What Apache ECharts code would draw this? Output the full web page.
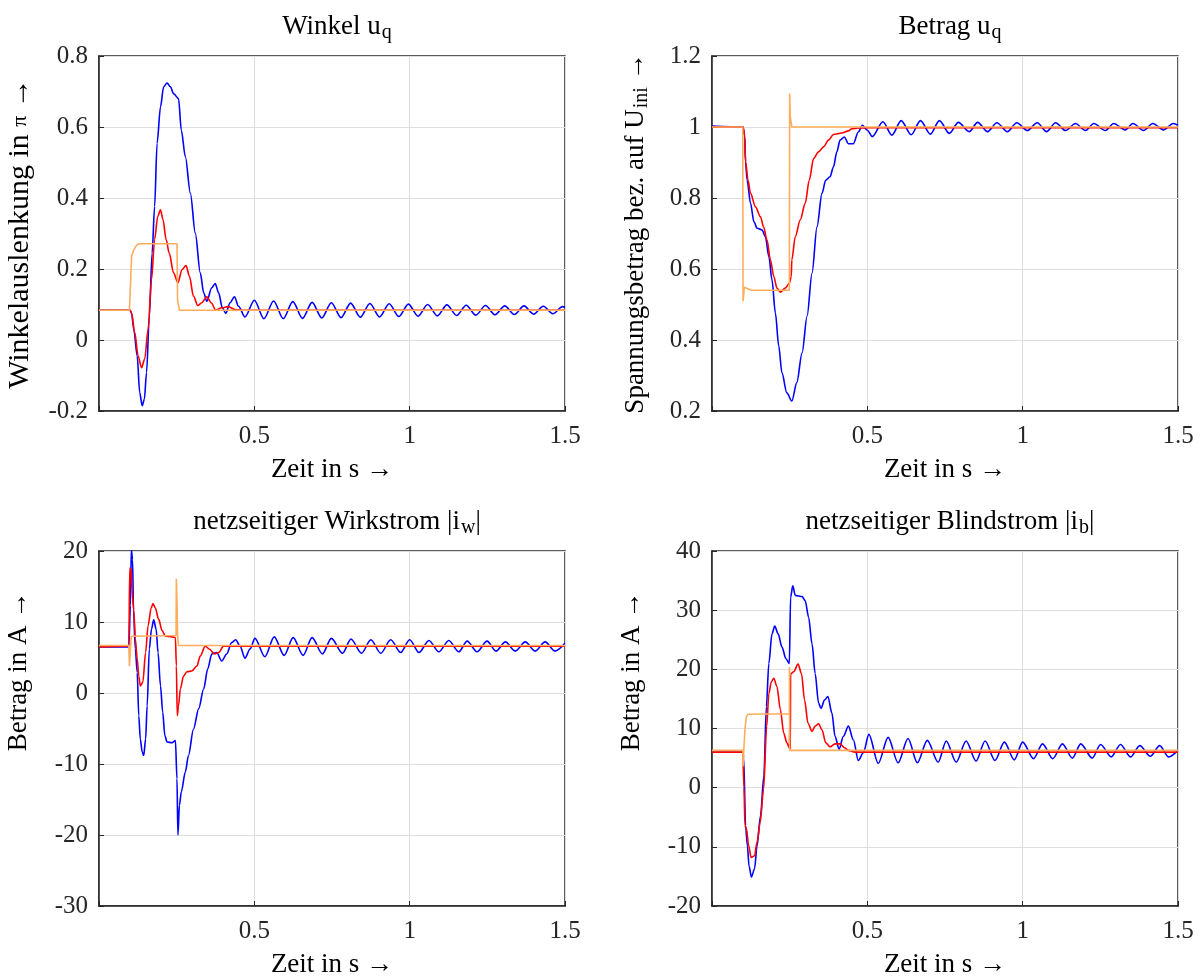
<!DOCTYPE html>
<html><head><meta charset="utf-8">
<script src="https://cdn.jsdelivr.net/npm/echarts@6/dist/echarts.min.js"></script>
<style>html,body{margin:0;padding:0;background:#fff}#c{width:1200px;height:979px}</style>
</head><body><div id="c"></div>
<script>
// ---------- data: [time s, value] ----------
const titles = ['{a|Winkel u}{s|q}', '{a|Betrag u}{s|q}', '{a|netzseitiger Wirkstrom |i}{s|w}{a||}', '{a|netzseitiger Blindstrom |i}{s|b}{a||}'];
const yNames = ['{A|Winkelauslenkung in }{P|π}{A| →}', '{a|Spannungsbetrag bez. auf U}{s|ini}{a| →}', '{a|Betrag in A →}', '{a|Betrag in A →}'];
const xName = 'Zeit in s →';
const xTicks = [0, 0.5, 1, 1.5];
const yRanges = [[-0.2, 0.8, 0.2], [0.2, 1.2, 0.2], [-30, 20, 10], [-20, 40, 10]];

const blue1 = [[0.0,0.084],[0.100,0.084],[0.105,0.075],[0.112,0.03],[0.123,-0.045],[0.131,-0.148],[0.139,-0.185],[0.146,-0.167],[0.153,-0.092],[0.162,0.067],[0.171,0.245],[0.179,0.376],[0.187,0.554],[0.198,0.657],[0.208,0.713],[0.219,0.724],[0.230,0.713],[0.240,0.694],[0.256,0.680],[0.265,0.591],[0.278,0.516],[0.294,0.414],[0.310,0.301],[0.326,0.189],[0.337,0.133],[0.347,0.109],[0.363,0.147],[0.374,0.159],[0.385,0.133],[0.397,0.091],[0.408,0.075],[0.422,0.105],[0.436,0.122],[0.449,0.095],[0.470,0.065],[0.500,0.112],[0.531,0.060],[0.562,0.110],[0.593,0.060],[0.624,0.108],[0.655,0.061],[0.686,0.106],[0.717,0.062],[0.748,0.105],[0.779,0.063],[0.810,0.104],[0.841,0.064],[0.872,0.103],[0.903,0.065],[0.934,0.102],[0.965,0.066],[0.996,0.101],[1.027,0.067],[1.058,0.100],[1.089,0.068],[1.120,0.099],[1.151,0.069],[1.182,0.098],[1.213,0.070],[1.244,0.097],[1.275,0.071],[1.306,0.096],[1.337,0.072],[1.368,0.096],[1.399,0.073],[1.430,0.095],[1.461,0.074],[1.492,0.094],[1.500,0.092]];
const red1 = [[0.0,0.084],[0.100,0.084],[0.105,0.075],[0.115,0.021],[0.126,-0.045],[0.137,-0.078],[0.147,-0.054],[0.158,0.03],[0.169,0.17],[0.179,0.283],[0.189,0.348],[0.198,0.367],[0.206,0.339],[0.216,0.283],[0.226,0.245],[0.240,0.189],[0.254,0.161],[0.267,0.198],[0.280,0.210],[0.291,0.180],[0.304,0.124],[0.318,0.097],[0.331,0.105],[0.347,0.122],[0.361,0.105],[0.376,0.084],[0.395,0.091],[0.416,0.094],[0.437,0.086],[0.460,0.084],[1.5,0.084]];
const orange1 = [[0.0,0.084],[0.098,0.084],[0.102,0.17],[0.105,0.236],[0.112,0.254],[0.120,0.266],[0.128,0.271],[0.251,0.271],[0.253,0.11],[0.259,0.084],[1.5,0.084]];

const blue2 = [[0.0,1.003],[0.100,1.0],[0.105,0.977],[0.108,0.902],[0.113,0.85],[0.124,0.785],[0.135,0.733],[0.145,0.715],[0.161,0.710],[0.172,0.691],[0.183,0.635],[0.193,0.570],[0.204,0.476],[0.215,0.382],[0.225,0.308],[0.241,0.251],[0.257,0.228],[0.273,0.280],[0.290,0.364],[0.306,0.467],[0.322,0.588],[0.338,0.719],[0.354,0.813],[0.366,0.850],[0.380,0.860],[0.391,0.888],[0.402,0.930],[0.412,0.963],[0.426,0.972],[0.439,0.953],[0.455,0.953],[0.471,0.986],[0.484,1.005],[0.500,0.991],[0.516,0.973],[0.550,1.015],[0.579,0.977],[0.609,1.018],[0.641,0.978],[0.671,1.018],[0.703,0.980],[0.732,1.018],[0.764,0.982],[0.793,1.013],[0.828,0.987],[0.855,1.013],[0.887,0.987],[0.917,1.012],[0.951,0.987],[0.981,1.012],[1.015,0.990],[1.047,1.012],[1.077,0.987],[1.106,1.012],[1.138,0.990],[1.170,1.010],[1.202,0.990],[1.229,1.010],[1.266,0.990],[1.293,1.010],[1.330,0.992],[1.355,1.010],[1.389,0.990],[1.419,1.010],[1.453,0.992],[1.485,1.010],[1.500,1.005]];
const red2 = [[0.0,1.0],[0.100,1.0],[0.105,0.975],[0.108,0.902],[0.116,0.85],[0.124,0.813],[0.140,0.775],[0.156,0.747],[0.166,0.719],[0.177,0.682],[0.188,0.626],[0.199,0.579],[0.209,0.546],[0.220,0.535],[0.236,0.546],[0.249,0.56],[0.255,0.579],[0.257,0.626],[0.268,0.691],[0.284,0.738],[0.300,0.785],[0.313,0.85],[0.327,0.911],[0.343,0.930],[0.359,0.944],[0.375,0.963],[0.391,0.979],[0.418,0.983],[0.439,0.989],[0.450,0.995],[0.471,0.997],[0.500,0.998],[1.5,0.998]];
const orange2 = [[0.0,1.0],[0.099,1.0],[0.100,0.509],[0.104,0.549],[0.113,0.545],[0.127,0.540],[0.249,0.540],[0.250,1.094],[0.252,1.028],[0.257,1.0],[1.5,1.0]];

const blue3 = [[0.0,6.5],[0.096,6.5],[0.101,12.3],[0.104,20.2],[0.108,18.8],[0.111,11.8],[0.117,6.2],[0.123,2.9],[0.128,-3.2],[0.133,-6.5],[0.139,-8.3],[0.144,-8.8],[0.150,-6.5],[0.155,-1.8],[0.162,6.2],[0.169,9.0],[0.176,10.3],[0.184,9.0],[0.190,5.7],[0.198,1.0],[0.205,-2.7],[0.212,-6.0],[0.219,-6.9],[0.235,-7.0],[0.246,-6.7],[0.251,-12.1],[0.254,-20.0],[0.259,-15.8],[0.265,-13.9],[0.278,-11.1],[0.288,-8.8],[0.304,-5.1],[0.321,-2.2],[0.337,0.6],[0.350,3.4],[0.363,5.5],[0.379,5.7],[0.395,4.5],[0.411,5.5],[0.427,7.1],[0.440,7.5],[0.454,6.6],[0.470,4.9],[0.486,6.2],[0.502,7.7],[0.534,5.1],[0.564,7.9],[0.596,5.3],[0.625,7.8],[0.657,5.3],[0.686,7.8],[0.719,5.5],[0.748,7.7],[0.784,5.6],[0.811,7.6],[0.845,5.6],[0.875,7.5],[0.907,5.6],[0.939,7.5],[0.971,5.7],[1.000,7.5],[1.030,5.7],[1.062,7.4],[1.094,5.8],[1.126,7.4],[1.158,5.8],[1.185,7.3],[1.217,5.8],[1.249,7.3],[1.278,5.9],[1.308,7.2],[1.340,5.9],[1.372,7.2],[1.404,5.9],[1.436,7.2],[1.468,5.9],[1.500,7.0]];
const red3 = [[0.0,6.5],[0.096,6.6],[0.099,17.6],[0.103,17.4],[0.106,14.6],[0.112,11.6],[0.117,7.6],[0.123,4.8],[0.128,2.4],[0.133,1.0],[0.141,1.5],[0.150,5.7],[0.158,9.5],[0.168,12.0],[0.174,12.6],[0.181,12.0],[0.192,10.4],[0.203,8.8],[0.214,8.0],[0.235,7.9],[0.246,7.8],[0.249,3.8],[0.252,-3.2],[0.256,-1.8],[0.262,0.6],[0.272,2.4],[0.283,3.0],[0.299,3.1],[0.315,3.8],[0.326,5.2],[0.342,6.6],[0.355,6.2],[0.372,5.5],[0.385,5.7],[0.401,6.6],[0.420,6.6],[1.5,6.6]];
const orange3 = [[0.0,6.7],[0.096,6.7],[0.098,3.8],[0.101,6.0],[0.104,8.0],[0.110,8.1],[0.248,8.1],[0.249,16.1],[0.251,13.0],[0.253,8.0],[0.256,6.7],[1.5,6.7]];

const blue4 = [[0.0,6.2],[0.099,6.2],[0.102,5.0],[0.108,-6.4],[0.114,-9.8],[0.119,-13.2],[0.127,-15.1],[0.137,-13.7],[0.145,-9.8],[0.156,-4.8],[0.167,2.0],[0.175,13.7],[0.183,21.0],[0.193,26.0],[0.202,27.3],[0.213,26.0],[0.225,23.8],[0.238,21.8],[0.249,21.0],[0.253,32.2],[0.260,34.1],[0.268,32.5],[0.290,32.3],[0.300,31.6],[0.311,28.8],[0.322,24.3],[0.332,19.3],[0.343,14.3],[0.351,13.4],[0.362,14.8],[0.373,15.4],[0.386,12.6],[0.396,8.7],[0.409,6.5],[0.423,8.7],[0.439,10.4],[0.455,8.1],[0.471,4.6],[0.487,5.9],[0.505,9.0],[0.535,4.1],[0.567,8.5],[0.599,4.2],[0.631,8.3],[0.661,4.2],[0.693,8.0],[0.728,4.3],[0.754,7.9],[0.786,4.3],[0.818,7.9],[0.850,4.5],[0.879,7.9],[0.911,4.6],[0.941,7.7],[0.973,4.7],[1.000,7.7],[1.035,4.9],[1.064,7.4],[1.097,4.9],[1.128,7.4],[1.160,5.0],[1.187,7.4],[1.224,5.0],[1.251,7.3],[1.285,5.2],[1.315,7.3],[1.347,5.2],[1.377,7.1],[1.411,5.3],[1.441,7.1],[1.470,5.2],[1.500,6.3]];
const red4 = [[0.0,6.0],[0.099,6.0],[0.103,0.0],[0.106,-6.4],[0.111,-7.0],[0.118,-9.8],[0.126,-11.8],[0.137,-11.5],[0.145,-9.2],[0.155,-5.9],[0.166,-0.3],[0.176,10.4],[0.183,15.9],[0.191,17.9],[0.199,18.5],[0.209,17.1],[0.220,13.2],[0.231,9.2],[0.241,7.6],[0.249,6.7],[0.251,11.8],[0.252,6.5],[0.253,19.2],[0.263,19.6],[0.277,20.9],[0.288,19.3],[0.298,14.8],[0.309,10.9],[0.322,9.5],[0.332,10.4],[0.343,10.8],[0.354,9.8],[0.366,7.6],[0.380,6.9],[0.396,7.4],[0.412,7.4],[0.428,6.7],[0.439,6.3],[0.460,6.0],[1.5,6.0]];
const orange4 = [[0.0,6.3],[0.099,6.3],[0.100,3.6],[0.102,6.0],[0.106,9.8],[0.110,11.8],[0.115,12.4],[0.120,12.5],[0.249,12.5],[0.2495,20.4],[0.250,6.3],[1.5,6.3]];

const blueSets = [blue1, blue2, blue3, blue4];
const redSets = [red1, red2, red3, red4];
const orangeSets = [orange1, orange2, orange3, orange4];

// ---------- layout / style ----------
const FONT = '"Liberation Serif", "Times New Roman", serif';
const grids = [
  {left: 99, top: 56, width: 466, height: 355},
  {left: 712, top: 56, width: 466, height: 355},
  {left: 99, top: 551, width: 466, height: 356},
  {left: 712, top: 551, width: 466, height: 356}
];
const nameGapsY = [62, 60, 64, 64];
const namePads = [[0, 0, 0, 0], [0, 0, 0, 0], [0, 0, 0, 114], [0, 0, 0, 114]];
const txt = {fontFamily: FONT, fontWeight: 'normal', color: '#000'};
const richBase = {
  a: Object.assign({fontSize: 27, verticalAlign: 'top', lineHeight: 30}, txt),
  s: Object.assign({fontSize: 20, verticalAlign: 'bottom', lineHeight: 22, padding: [19, 0, 0, 1]}, txt),
  A: Object.assign({fontSize: 30, verticalAlign: 'top', lineHeight: 32}, txt),
  P: Object.assign({fontSize: 22, verticalAlign: 'top', lineHeight: 32, padding: [4, 0, 0, 0]}, txt)
};
const axisCol = '#262626';

const option = {
  animation: false,
  backgroundColor: '#fff',
  grid: grids.map(g => Object.assign({show: true, borderColor: axisCol, borderWidth: 1.5, backgroundColor: '#fff'}, g)),
  title: titles.map((t, i) => ({
    text: t,
    left: grids[i].left + grids[i].width / 2,
    top: grids[i].top - 48,
    textAlign: 'center',
    textStyle: {fontWeight: 'normal', rich: richBase}
  })),
  xAxis: grids.map((g, i) => ({
    type: 'value', gridIndex: i, min: xTicks[0], max: xTicks[xTicks.length - 1], interval: 0.5,
    name: xName, nameLocation: 'middle', nameGap: 45,
    nameTextStyle: {fontFamily: FONT, fontSize: 27, color: '#000'},
    axisLine: {show: true, onZero: false, lineStyle: {color: axisCol, width: 1.5}},
    axisTick: {show: true, inside: true, length: 5, lineStyle: {color: axisCol}},
    axisLabel: {fontFamily: FONT, fontSize: 25, color: '#262626', margin: 13,
      formatter: v => (v === 0 ? '' : String(v))},
    splitLine: {show: true, lineStyle: {color: '#dedede', width: 1}}
  })),
  yAxis: grids.map((g, i) => ({
    type: 'value', gridIndex: i, min: yRanges[i][0], max: yRanges[i][1], interval: yRanges[i][2],
    name: yNames[i], nameLocation: 'middle', nameGap: nameGapsY[i], nameRotate: 90,
    nameTextStyle: {rich: richBase, padding: namePads[i]},
    axisLine: {show: true, onZero: false, lineStyle: {color: axisCol, width: 1.5}},
    axisTick: {show: true, inside: true, length: 5, lineStyle: {color: axisCol}},
    axisLabel: {fontFamily: FONT, fontSize: 25, color: '#262626', margin: 11},
    splitLine: {show: true, lineStyle: {color: '#dedede', width: 1}}
  })),
  series: []
};
for (let i = 0; i < 4; i++) {
  option.series.push({type: 'line', xAxisIndex: i, yAxisIndex: i, data: blueSets[i], showSymbol: false,
    smooth: 0.3, smoothMonotone: 'x', lineStyle: {color: '#0000ff', width: 1.6}, itemStyle: {color: '#0000ff'}});
  option.series.push({type: 'line', xAxisIndex: i, yAxisIndex: i, data: redSets[i], showSymbol: false,
    smooth: 0.3, smoothMonotone: 'x', lineStyle: {color: '#ff0000', width: 1.6}, itemStyle: {color: '#ff0000'}});
  option.series.push({type: 'line', xAxisIndex: i, yAxisIndex: i, data: orangeSets[i], showSymbol: false,
    lineStyle: {color: '#ffad5c', width: 1.6}, itemStyle: {color: '#ffad5c'}});
}
const chart = echarts.init(document.getElementById('c'), null, {renderer: 'canvas'});
chart.setOption(option);
</script></body></html>
